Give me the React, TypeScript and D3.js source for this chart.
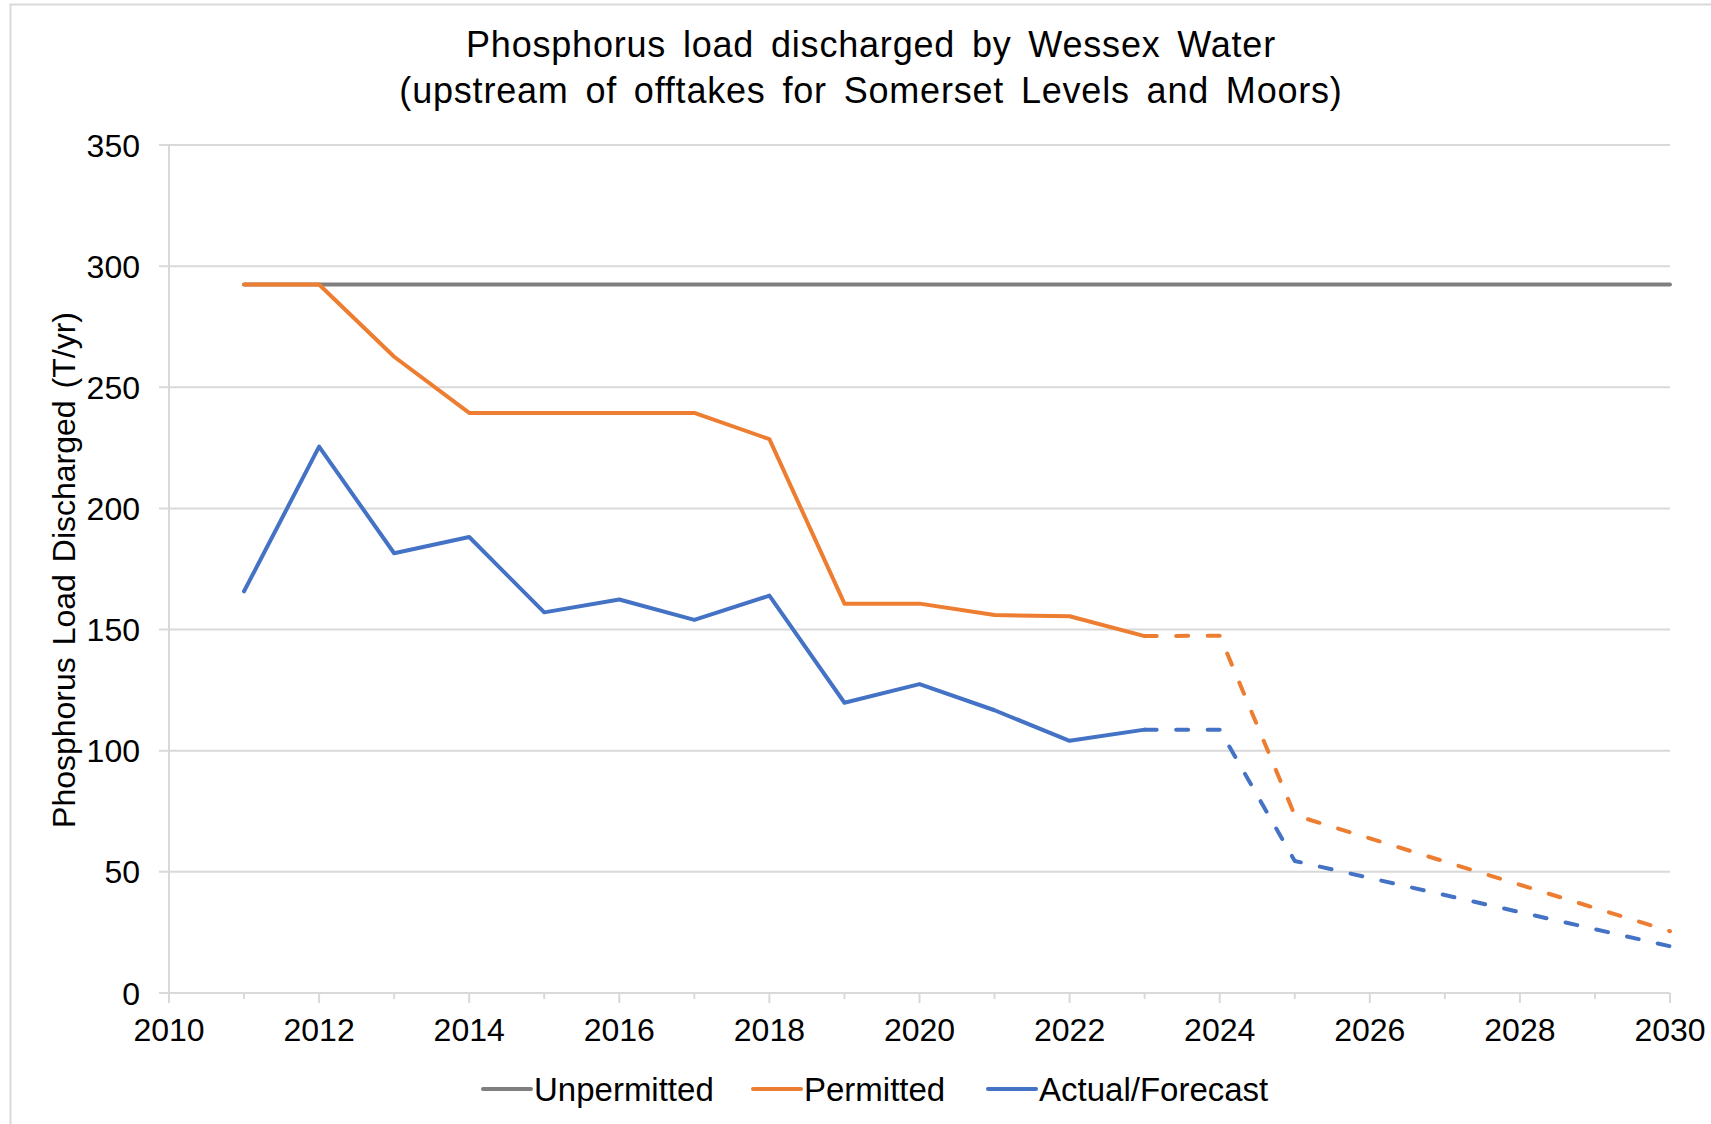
import React from "react";
import * as d3 from "d3";

const titleLines = [
  "Phosphorus load discharged by Wessex Water",
  "(upstream of offtakes for Somerset Levels and Moors)",
];
const yAxisTitle = "Phosphorus Load Discharged (T/yr)";

const unpermittedYears = [2011, 2030];
const unpermittedValues = [292.4, 292.4];

const permittedYears = [2011, 2012, 2013, 2014, 2015, 2016, 2017, 2018, 2019, 2020, 2021, 2022, 2023];
const permittedValues = [292.4, 292.4, 262.6, 239.4, 239.4, 239.4, 239.4, 228.6, 160.7, 160.7, 156.0, 155.5, 147.3];
const permittedForecastYears = [2023, 2024, 2025, 2030];
const permittedForecastValues = [147.3, 147.5, 73.4, 25.5];

const actualYears = [2011, 2012, 2013, 2014, 2015, 2016, 2017, 2018, 2019, 2020, 2021, 2022, 2023];
const actualValues = [165.8, 225.5, 181.5, 188.2, 157.1, 162.4, 154.0, 164.0, 119.8, 127.5, 116.7, 104.1, 108.7];
const actualForecastYears = [2023, 2024, 2025, 2030];
const actualForecastValues = [108.7, 108.7, 54.5, 19.3];

const yTicks = [0, 50, 100, 150, 200, 250, 300, 350];
const xTickLabels = [2010, 2012, 2014, 2016, 2018, 2020, 2022, 2024, 2026, 2028, 2030];
const xMinorTicks = [2011, 2013, 2015, 2017, 2019, 2021, 2023, 2025, 2027, 2029];

const legendItems = ["Unpermitted", "Permitted", "Actual/Forecast"];

const W = 1711;
const H = 1124;
const FONT = "'Liberation Sans', Arial, Helvetica, sans-serif";
const GRID = "#d9d9d9";
const GRAY = "#7f7f7f";
const ORANGE = "#ed7d31";
const BLUE = "#4472c4";

export default function App() {
  const x = d3.scaleLinear().domain([2010, 2030]).range([169, 1670]);
  const y = d3.scaleLinear().domain([0, 350]).range([993, 145]);

  const line = d3
    .line<[number, number]>()
    .x((d) => x(d[0]))
    .y((d) => y(d[1]));

  const zip = (a: number[], b: number[]) => a.map((v, i) => [v, b[i]] as [number, number]);

  const dash = "12,19.5";
  const lw = 4;

  const legendColors = [GRAY, ORANGE, BLUE];
  const legendLineX = [483, 753, 988];

  return (
    <svg
      width={W}
      height={H}
      style={{ position: "absolute", left: 0, top: 0, background: "#fff" }}
      fontFamily={FONT}
    >
      <rect x={0} y={0} width={W} height={H} fill="#fff" />
      <rect x={10.5} y={4.5} width={W + 20} height={H + 20} fill="none" stroke={GRID} strokeWidth={2} />

      {/* Title */}
      {titleLines.map((t, i) => (
        <text
          key={t}
          x={871}
          y={57 + i * 46}
          textAnchor="middle"
          fontSize={36}
          letterSpacing={0.8}
          wordSpacing={6}
          fill="#000"
        >
          {t}
        </text>
      ))}

      {/* Gridlines and y ticks */}
      {yTicks.map((t) => (
        <g key={t}>
          <line x1={x(2010) - 10} x2={x(2030)} y1={y(t)} y2={y(t)} stroke={GRID} strokeWidth={2} />
          <text x={140} y={y(t)} dy="0.36em" textAnchor="end" fontSize={32} fill="#000">
            {t}
          </text>
        </g>
      ))}

      {/* Y axis line */}
      <line x1={x(2010)} x2={x(2010)} y1={y(350)} y2={y(0) + 10} stroke={GRID} strokeWidth={2} />

      {/* X ticks */}
      {xTickLabels.map((t) => (
        <g key={t}>
          <line x1={x(t)} x2={x(t)} y1={y(0)} y2={y(0) + 10} stroke={GRID} strokeWidth={2} />
          <text x={x(t)} y={1041} textAnchor="middle" fontSize={32} fill="#000">
            {t}
          </text>
        </g>
      ))}
      {xMinorTicks.map((t) => (
        <line key={t} x1={x(t)} x2={x(t)} y1={y(0)} y2={y(0) + 6} stroke={GRID} strokeWidth={2} />
      ))}

      {/* Y axis title */}
      <text
        transform={`translate(75,570) rotate(-90)`}
        textAnchor="middle"
        fontSize={32}
        wordSpacing={3}
        fill="#000"
      >
        {yAxisTitle}
      </text>

      {/* Series */}
      <path d={line(zip(unpermittedYears, unpermittedValues)) || ""} fill="none" stroke={GRAY} strokeWidth={lw} strokeLinejoin="round" strokeLinecap="round" />
      <path d={line(zip(permittedYears, permittedValues)) || ""} fill="none" stroke={ORANGE} strokeWidth={lw} strokeLinejoin="round" strokeLinecap="round" />
      <path d={line(zip(permittedForecastYears, permittedForecastValues)) || ""} fill="none" stroke={ORANGE} strokeWidth={lw} strokeDasharray={dash} strokeLinejoin="round" strokeLinecap="round" />
      <path d={line(zip(actualYears, actualValues)) || ""} fill="none" stroke={BLUE} strokeWidth={lw} strokeLinejoin="round" strokeLinecap="round" />
      <path d={line(zip(actualForecastYears, actualForecastValues)) || ""} fill="none" stroke={BLUE} strokeWidth={lw} strokeDasharray={dash} strokeLinejoin="round" strokeLinecap="round" />

      {/* Legend */}
      {legendItems.map((name, i) => (
        <g key={name}>
          <line x1={legendLineX[i]} x2={legendLineX[i] + 48} y1={1089} y2={1089} stroke={legendColors[i]} strokeWidth={lw} strokeLinecap="round" />
          <text x={legendLineX[i] + 51} y={1089} dy="0.36em" fontSize={33} fill="#000">
            {name}
          </text>
        </g>
      ))}
    </svg>
  );
}
